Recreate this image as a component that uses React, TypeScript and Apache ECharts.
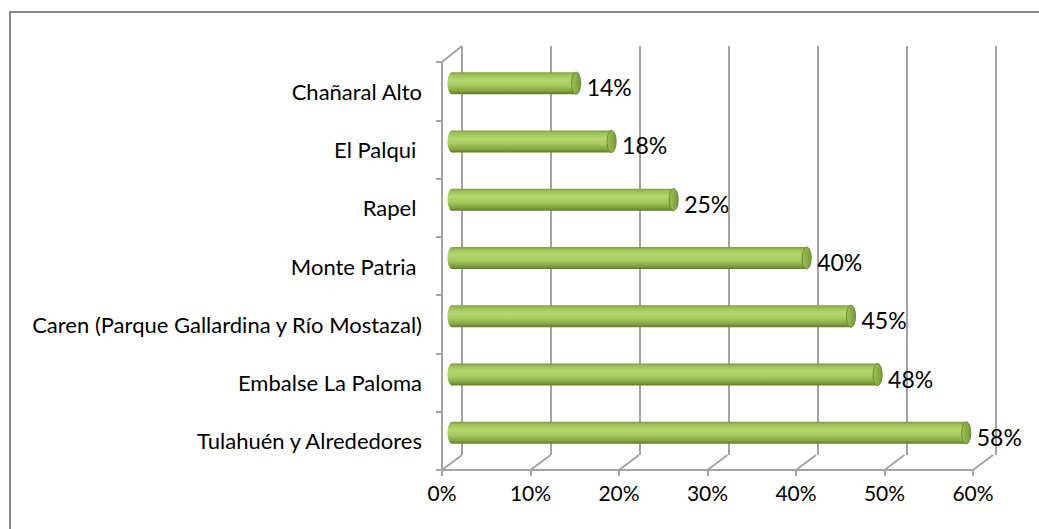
import React, { useEffect, useRef } from 'react';
import * as echarts from 'echarts';

const categories = [
  'Chañaral Alto',
  'El Palqui ',
  'Rapel ',
  'Monte Patria ',
  'Caren (Parque Gallardina y Río Mostazal)',
  'Embalse La Paloma',
  'Tulahuén y Alrededores',
];
const values = [0.14, 0.18, 0.25, 0.40, 0.45, 0.48, 0.58];
const tickValues = [0, 0.1, 0.2, 0.3, 0.4, 0.5, 0.6];

const FONT = 'Lato, "Open Sans", sans-serif';
const GRID_COLOR = '#a3a3a3';
const pct = (v: number) => Math.round(v * 100) + '%';

export default function App() {
  const ref = useRef<HTMLDivElement>(null);
  useEffect(() => {
    const chart = echarts.init(ref.current!, null, { renderer: 'svg' });
    const bodyGrad = () =>
      new echarts.graphic.LinearGradient(0, 0, 0, 1, [
        { offset: 0, color: '#7d9c3c' },
        { offset: 0.12, color: '#9cc057' },
        { offset: 0.35, color: '#b5d76f' },
        { offset: 0.6, color: '#a7cb60' },
        { offset: 0.85, color: '#84a540' },
        { offset: 1, color: '#5f7c27' },
      ]);
    const capGrad = () =>
      new echarts.graphic.LinearGradient(0, 0, 1, 0, [
        { offset: 0, color: '#a0c25a' },
        { offset: 1, color: '#789a36' },
      ]);

    chart.setOption({
      animation: false,
      backgroundColor: '#ffffff',
      graphic: [
        {
          type: 'rect',
          silent: true,
          z: -10,
          shape: { x: 10, y: 12, width: 1100, height: 600 },
          style: { fill: 'none', stroke: '#8a8a8a', lineWidth: 2 },
        },
      ],
      grid: [
        { left: 442, top: 62, width: 531, height: 408 },
        { left: 462, top: 46, width: 534, height: 409 },
        { left: 452, top: 54, width: 532, height: 408 },
      ],
      xAxis: [
        {
          gridIndex: 0,
          type: 'value',
          min: 0,
          max: 0.6,
          interval: 0.1,
          axisLine: { show: true, lineStyle: { color: GRID_COLOR, width: 2 } },
          axisTick: { show: true, length: 6, lineStyle: { color: GRID_COLOR, width: 2 } },
          axisLabel: {
            formatter: (v: number) => pct(v),
            fontSize: 21,
            fontFamily: FONT,
            color: '#000',
            margin: 12,
          },
          splitLine: { show: false },
        },
        {
          gridIndex: 1,
          type: 'value',
          min: 0,
          max: 0.6,
          interval: 0.1,
          axisLine: { show: false },
          axisTick: { show: false },
          axisLabel: { show: false },
          splitLine: { show: true, lineStyle: { color: GRID_COLOR, width: 2 } },
        },
        {
          gridIndex: 2,
          type: 'value',
          min: 0,
          max: 0.6,
          interval: 0.1,
          show: false,
        },
      ],
      yAxis: [
        {
          gridIndex: 0,
          type: 'category',
          inverse: true,
          data: categories,
          axisLine: { show: true, lineStyle: { color: GRID_COLOR, width: 2 } },
          axisTick: { show: true, length: 6, lineStyle: { color: GRID_COLOR, width: 2 } },
          axisLabel: {
            fontSize: 22,
            fontFamily: FONT,
            color: '#000',
            margin: 20,
          },
          splitLine: { show: false },
        },
        { gridIndex: 1, type: 'category', data: categories, show: false },
        { gridIndex: 2, type: 'category', inverse: true, data: categories, show: false },
      ],
      series: [
        {
          type: 'custom',
          xAxisIndex: 0,
          yAxisIndex: 0,
          silent: true,
          z: 1,
          data: tickValues.map((v) => [v, 0]),
          renderItem: (params: any, api: any) => {
            const cs = params.coordSys;
            const x = api.coord([api.value(0), 0])[0];
            const yb = cs.y + cs.height;
            const st = { stroke: GRID_COLOR, lineWidth: 2 };
            const children: any[] = [
              { type: 'line', shape: { x1: x, y1: yb, x2: x + 20, y2: yb - 15 }, style: st },
            ];
            if (params.dataIndex === 0) {
              children.push({
                type: 'line',
                shape: { x1: cs.x, y1: cs.y, x2: cs.x + 20, y2: cs.y - 16 },
                style: st,
              });
            }
            return { type: 'group', children };
          },
        },
        {
          type: 'custom',
          xAxisIndex: 2,
          yAxisIndex: 2,
          z: 5,
          data: values.map((v, i) => [v, i]),
          encode: { x: 0, y: 1 },
          renderItem: (params: any, api: any) => {
            const v = api.value(0);
            const i = api.value(1);
            const p0 = api.coord([0, i]);
            const p1 = api.coord([v, i]);
            const h = 22;
            const rx = 4.5;
            const yc = p0[1];
            return {
              type: 'group',
              children: [
                {
                  type: 'ellipse',
                  shape: { cx: p0[0], cy: yc, rx, ry: h / 2 },
                  style: { fill: bodyGrad() },
                },
                {
                  type: 'rect',
                  shape: { x: p0[0], y: yc - h / 2, width: p1[0] - p0[0], height: h },
                  style: { fill: bodyGrad() },
                },
                {
                  type: 'ellipse',
                  shape: { cx: p1[0], cy: yc, rx, ry: h / 2 },
                  style: { fill: capGrad(), stroke: '#6a8a2f', lineWidth: 1 },
                },
                {
                  type: 'text',
                  x: p1[0] + rx + 6,
                  y: yc + 4,
                  style: {
                    text: pct(v),
                    fontSize: 23,
                    fontFamily: FONT,
                    fill: '#000',
                    align: 'left',
                    verticalAlign: 'middle',
                  },
                },
              ],
            };
          },
        },
      ],
    });
    return () => chart.dispose();
  }, []);
  return (
    <div
      ref={ref}
      style={{ position: 'absolute', left: 0, top: 0, width: 1039, height: 529, background: '#fff' }}
    />
  );
}
